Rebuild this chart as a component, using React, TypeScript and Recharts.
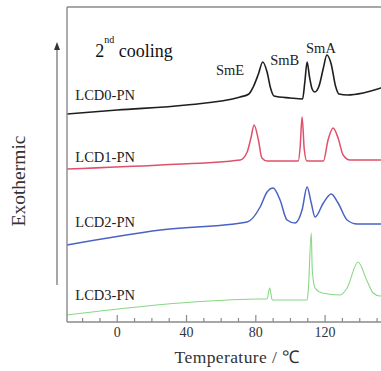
import { LineChart, Line, XAxis, YAxis, ReferenceDot, ReferenceLine } from 'recharts'

// temperature (°C) / heat flow (arb. units, curves stacked with offsets)
const lcd0 = [
  [-29, 208], [0, 212], [40, 217], [71, 225], [76, 228], [78.5, 235], [81.5, 248], [84, 260],
  [86.5, 250], [88.5, 234], [90.5, 226], [100, 224], [107, 223], [108.3, 240], [109.6, 260],
  [111, 245], [112.5, 233], [114, 230], [116.5, 236], [119, 254], [121, 267], [123.5, 258],
  [126, 236], [128, 228], [133, 227], [142, 229], [154, 235],
]
const lcd1 = [
  [-29, 153], [25, 157], [71, 162], [75, 170], [77.3, 185], [79, 197], [81.5, 182], [83.5, 164],
  [86.5, 161], [104.5, 161], [105.6, 175], [106.7, 205], [108, 172], [109.5, 161], [119, 161],
  [121.7, 182], [124.6, 194], [127.5, 184], [130.4, 167], [134.4, 162], [154, 162],
]
const lcd2 = [
  [-29, 77], [25, 92], [75, 100], [82.5, 115], [86.5, 130], [90, 134], [94, 122], [98, 102],
  [102.7, 99], [106.7, 112], [109.6, 135], [112, 119], [114.2, 105], [119, 119], [123.5, 128],
  [127.5, 119], [132.7, 102], [138.5, 98], [154, 98],
]
const lcd3 = [
  [-29, 7], [5.8, 14], [44, 20], [82.5, 23], [86.5, 23], [88, 34], [89.5, 22], [109.6, 22],
  [110.3, 32], [112, 89], [112.6, 52], [114.2, 34], [118.3, 29], [128.7, 27], [132.7, 34],
  [139, 60], [144, 42], [147.7, 29], [151.7, 26], [154, 26],
]

const toRows = (pts: number[][]) => pts.map(([t, v]) => ({ t, v }))

const series = [
  { name: 'LCD0-PN', data: toRows(lcd0), color: '#1e1e1e', width: 1.6 },
  { name: 'LCD1-PN', data: toRows(lcd1), color: '#e0506a', width: 1.5 },
  { name: 'LCD2-PN', data: toRows(lcd2), color: '#4a62c4', width: 1.5 },
  { name: 'LCD3-PN', data: toRows(lcd3), color: '#86d884', width: 1.1 },
]

const xTicks = [-20, -10, 0, 10, 20, 30, 40, 50, 60, 70, 80, 90, 100, 110, 120, 130, 140, 150]

// where the text annotations sit, in data units
const curveLabelAt = [[-24.2, 222], [-24.2, 160], [-24.2, 95], [-24.2, 22]]
const phaseLabels = ['SmE', 'SmB', 'SmA']
const phaseLabelAt = [[57, 247], [88.3, 257], [109, 269]]
const titleAt = [-12.7, 265]

const SERIF = 'Liberation Serif, Times New Roman, serif'
const serifStyle = { fontFamily: SERIF }

function TempTick({ x, y, payload }: any) {
  const v = payload.value
  const major = v % 40 === 0
  return (
    <g>
      <line x1={x} x2={x} y1={y} y2={y - (major ? 7 : 4)} stroke="#8a8a8a" strokeWidth={1.2} />
      {major && (
        <text x={x} y={y + 15} textAnchor="middle" style={serifStyle} fontSize={14} fill="#333">
          {v}
        </text>
      )}
    </g>
  )
}

function XTitle({ viewBox }: any) {
  return (
    <text x={viewBox.x + 170} y={viewBox.y + 41} textAnchor="middle" style={serifStyle} fontSize={17.5} fill="#333" letterSpacing={0.4}>
      Temperature / ℃
    </text>
  )
}

function YTitle({ viewBox }: any) {
  const cx = viewBox.x + 11.5
  return (
    <g>
      <text x={cx} y={181} transform={`rotate(-90 ${cx} 181)`} textAnchor="middle" dominantBaseline="central"
        style={serifStyle} fontSize={19.5} fill="#333">
        Exothermic
      </text>
      <line x1={57} x2={57} y1={285} y2={48} stroke="#777" strokeWidth={1.3} />
      <path d="M57 42 L54 50 L60 50 Z" fill="#333" />
    </g>
  )
}

function TextLabel({ viewBox, text, size }: any) {
  return (
    <text x={viewBox.x} y={viewBox.y} style={serifStyle} fontSize={size} fill="#222">
      {text}
    </text>
  )
}

function CoolingLabel(props: any) {
  const { x, y } = props.viewBox
  return (
    <text x={x} y={y} style={serifStyle} fontSize={18} fill="#111">
      2<tspan fontSize={10} dy={-14}>nd</tspan>
      <tspan dy={14}> cooling</tspan>
    </text>
  )
}

export default function App() {
  return (
    <div style={{ position: 'absolute', left: 0, top: 0, background: '#fff' }}>
      <LineChart width={390} height={371} margin={{ top: 7, right: 6, left: 7, bottom: 19 }}>
        <XAxis
          dataKey="t"
          type="number"
          domain={[-29, 154]}
          ticks={xTicks}
          interval={0}
          allowDataOverflow
          tickSize={0}
          tickMargin={0}
          tickLine={false}
          tick={<TempTick />}
          axisLine={{ stroke: '#8a8a8a', strokeWidth: 1.4 }}
          height={30}
          label={<XTitle />}
        />
        <YAxis
          type="number"
          domain={[0, 315]}
          allowDataOverflow
          width={60}
          tick={false}
          tickLine={false}
          axisLine={{ stroke: '#8a8a8a', strokeWidth: 1.4 }}
          label={<YTitle />}
        />
        <ReferenceLine y={315} stroke="#8a8a8a" strokeWidth={1.4} />
        {series.map((s) => (
          <Line
            key={s.name}
            data={s.data}
            dataKey="v"
            type="monotone"
            stroke={s.color}
            strokeWidth={s.width}
            dot={false}
            isAnimationActive={false}
          />
        ))}
        {series.map((s, i) => (
          <ReferenceDot key={'l' + s.name} x={curveLabelAt[i][0]} y={curveLabelAt[i][1]} r={0}
            fill="none" stroke="none" label={<TextLabel text={s.name} size={14.5} />} />
        ))}
        {phaseLabels.map((p, i) => (
          <ReferenceDot key={p} x={phaseLabelAt[i][0]} y={phaseLabelAt[i][1]} r={0}
            fill="none" stroke="none" label={<TextLabel text={p} size={14.5} />} />
        ))}
        <ReferenceDot x={titleAt[0]} y={titleAt[1]} r={0} fill="none" stroke="none" label={<CoolingLabel />} />
      </LineChart>
    </div>
  )
}
